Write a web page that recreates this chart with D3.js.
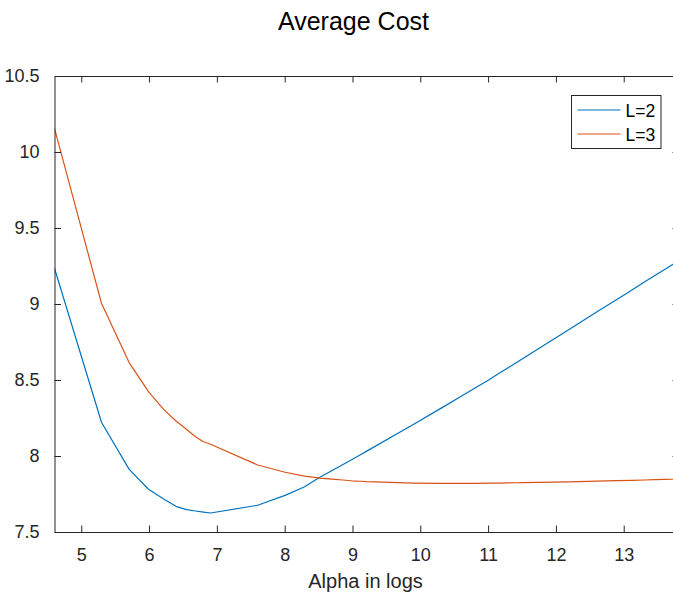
<!DOCTYPE html>
<html>
<head>
<meta charset="utf-8">
<script src="https://cdn.jsdelivr.net/npm/d3@7"></script>
<style>
  html, body { margin: 0; padding: 0; background: #fff; }
  svg { display: block; font-family: "Liberation Sans", Arial, sans-serif; }
</style>
</head>
<body>
<div id="chart"></div>
<script>
// Alpha grid (natural log of alpha) and average cost for each L
const logAlpha = [4.605, 5.298, 5.704, 5.991, 6.215, 6.397, 6.551, 6.685, 6.802, 6.908,
                  7.601, 8.006, 8.294, 8.517, 8.700, 8.854, 8.987, 9.105, 9.210,
                  9.903, 10.309, 10.597, 10.820, 11.002, 11.156, 11.290, 11.408, 11.513,
                  12.206, 12.612, 12.899, 13.122, 13.305, 13.459, 13.592, 13.710, 13.816];

const costL2 = [9.235, 8.222, 7.914, 7.781, 7.717, 7.669, 7.647, 7.638, 7.631, 7.625,
                7.676, 7.741, 7.798, 7.860, 7.905, 7.943, 7.975, 8.005, 8.032,
                8.209, 8.315, 8.391, 8.450, 8.499, 8.542, 8.579, 8.612, 8.642,
                8.836, 8.950, 9.030, 9.092, 9.144, 9.187, 9.224, 9.257, 9.287];

const costL3 = [10.156, 9.005, 8.616, 8.423, 8.307, 8.230, 8.176, 8.127, 8.094, 8.077,
                7.941, 7.893, 7.868, 7.855, 7.848, 7.842, 7.837, 7.834, 7.831,
                7.822, 7.820, 7.820, 7.820, 7.821, 7.822, 7.823, 7.824, 7.825,
                7.830, 7.835, 7.838, 7.840, 7.842, 7.844, 7.846, 7.847, 7.848];

const seriesNames = ["L=2", "L=3"];
const seriesColors = ["#0072BD", "#D95319"];
const xTicks = [5, 6, 7, 8, 9, 10, 11, 12, 13];
const yTicks = [7.5, 8, 8.5, 9, 9.5, 10, 10.5];

const W = 673, H = 593;
const plot = { left: 54.5, right: 679, top: 76, bottom: 532 };
const axisColor = "#262626";

const svg = d3.select("#chart").append("svg")
  .attr("width", W).attr("height", H);

const x = d3.scaleLinear().domain([4.6052, 13.8155]).range([plot.left, plot.right]);
const y = d3.scaleLinear().domain([7.5, 10.5]).range([plot.bottom, plot.top]);

// Title
svg.append("text")
  .attr("x", 353.5).attr("y", 30)
  .attr("text-anchor", "middle")
  .attr("font-size", 25)
  .attr("fill", "#000")
  .text("Average Cost");

// Data lines (clipped to the axes box)
svg.append("clipPath").attr("id", "clip")
  .append("rect")
  .attr("x", plot.left).attr("y", plot.top)
  .attr("width", plot.right - plot.left).attr("height", plot.bottom - plot.top);

const line = d3.line().x(d => x(d[0])).y(d => y(d[1]));
const series = [costL2, costL3];
const gLines = svg.append("g").attr("clip-path", "url(#clip)");
series.forEach((vals, i) => {
  gLines.append("path")
    .datum(logAlpha.map((a, j) => [a, vals[j]]))
    .attr("fill", "none")
    .attr("stroke", seriesColors[i])
    .attr("stroke-width", 1.2)
    .attr("stroke-linejoin", "round")
    .attr("d", line);
});

// Axes: ticks point inward, box drawn on all sides
const tickLen = 6.5;
const fmt = d3.format("~g");
const bottomAxis = d3.axisBottom(x).tickValues(xTicks).tickSizeInner(-tickLen).tickSizeOuter(0).tickPadding(tickLen + 10).tickFormat(fmt);
const topAxis = d3.axisTop(x).tickValues(xTicks).tickSizeInner(-tickLen).tickSizeOuter(0).tickFormat("");
const leftAxis = d3.axisLeft(y).tickValues(yTicks).tickSizeInner(-tickLen).tickSizeOuter(0).tickPadding(tickLen + 8.5).tickFormat(fmt);
const rightAxis = d3.axisRight(y).tickValues(yTicks).tickSizeInner(-tickLen).tickSizeOuter(0).tickFormat("");

function styleAxis(g) {
  g.selectAll("path.domain").attr("stroke", axisColor).attr("stroke-width", 1);
  g.selectAll(".tick line").attr("stroke", axisColor).attr("stroke-width", 1);
  g.selectAll(".tick text")
    .attr("fill", axisColor)
    .attr("font-size", 18)
    .attr("font-family", "'Liberation Sans', Arial, sans-serif");
}

svg.append("g").attr("transform", `translate(0,${plot.bottom})`).call(bottomAxis).call(styleAxis);
svg.append("g").attr("transform", `translate(0,${plot.top})`).call(topAxis).call(styleAxis);
svg.append("g").attr("transform", `translate(${plot.left},0)`).call(leftAxis).call(styleAxis);
svg.append("g").attr("transform", `translate(${plot.right},0)`).call(rightAxis).call(styleAxis);

// X axis label
svg.append("text")
  .attr("x", 365.5).attr("y", 588)
  .attr("text-anchor", "middle")
  .attr("font-size", 20)
  .attr("fill", axisColor)
  .text("Alpha in logs");

// Legend
const legend = svg.append("g");
legend.append("rect")
  .attr("x", 571.5).attr("y", 95.5)
  .attr("width", 89.5).attr("height", 53)
  .attr("fill", "#fff")
  .attr("stroke", axisColor).attr("stroke-width", 1);
seriesNames.forEach((name, i) => {
  const ly = 110 + i * 24;
  legend.append("line")
    .attr("x1", 577.5).attr("x2", 620.5)
    .attr("y1", ly).attr("y2", ly)
    .attr("stroke", seriesColors[i]).attr("stroke-width", 1.2);
  legend.append("text")
    .attr("x", 625.5).attr("y", ly + 6.5)
    .attr("font-size", 17.5)
    .attr("fill", "#000")
    .text(name);
});
</script>
</body>
</html>
